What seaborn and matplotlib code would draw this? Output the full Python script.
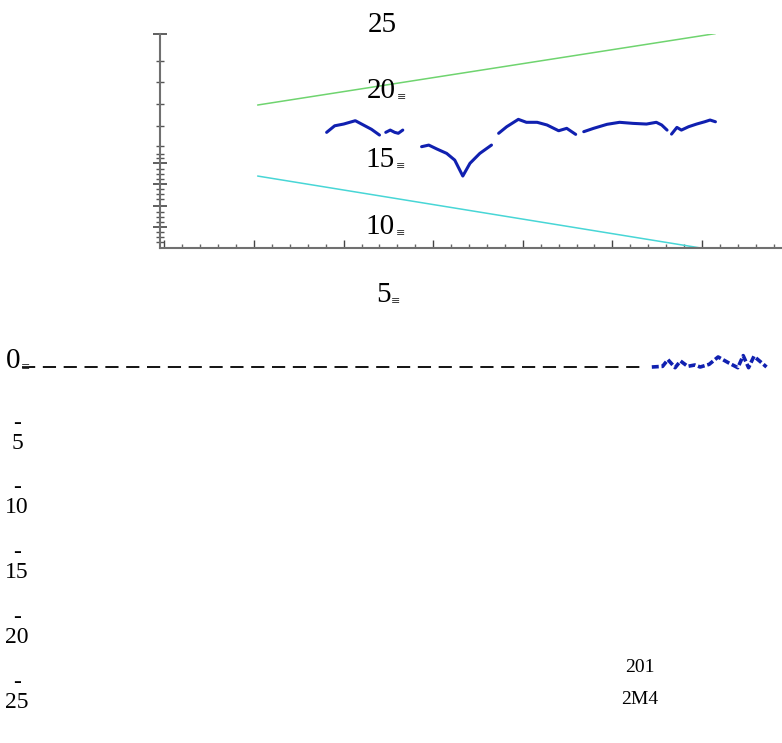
import matplotlib
matplotlib.use('Agg')
import matplotlib.pyplot as plt
import seaborn as sns
import pandas as pd

# --- données ---
# série bleue (segments séparés par des trous)
blue_seg = [1]*7 + [2]*5 + [3]*9 + [4]*9 + [5]*9 + [6]*8
blue_x = [2007.81, 2007.90, 2008.00, 2008.13, 2008.22, 2008.31, 2008.40,
          2008.47, 2008.52, 2008.57, 2008.61, 2008.66,
          2008.87, 2008.95, 2009.04, 2009.15, 2009.24, 2009.33, 2009.41, 2009.52, 2009.65,
          2009.73, 2009.82, 2009.95, 2010.04, 2010.16, 2010.27, 2010.40, 2010.49, 2010.59,
          2010.68, 2010.79, 2010.94, 2011.08, 2011.23, 2011.38, 2011.49, 2011.55, 2011.61,
          2011.66, 2011.72, 2011.77, 2011.85, 2011.94, 2012.03, 2012.09, 2012.15]
blue_y = [17.51, 18.00, 18.13, 18.38, 18.06, 17.74, 17.31,
          17.51, 17.68, 17.51, 17.44, 17.68,
          16.44, 16.56, 16.27, 15.94, 15.44, 14.25, 15.20, 15.94, 16.56,
          17.44, 17.93, 18.48, 18.26, 18.26, 18.06, 17.63, 17.81, 17.36,
          17.56, 17.81, 18.11, 18.26, 18.18, 18.13, 18.26, 18.06, 17.68,
          17.38, 17.88, 17.68, 17.93, 18.13, 18.30, 18.43, 18.30]

# bornes haute (verte) et basse (cyan)
upper_x = [2007.04, 2012.15]
upper_y = [19.55, 24.88]
lower_x = [2007.04, 2012.05]
lower_y = [14.25, 8.81]

# ligne zéro pointillée et petite série en bas à droite
zero_x = [2004.41, 2011.36]
zero_y = [0, 0]
small_x = [2011.44, 2011.56, 2011.62, 2011.70, 2011.76, 2011.84, 2011.92, 2011.98,
           2012.08, 2012.18, 2012.30, 2012.40, 2012.46, 2012.52, 2012.58, 2012.66, 2012.72]
small_y = [0.0, 0.05, 0.55, -0.05, 0.45, 0.05, 0.15, 0.0,
           0.2, 0.75, 0.3, -0.05, 0.85, -0.05, 0.8, 0.35, 0.0]

# étiquettes (texte)
mid_labels = ['25', '20', '15', '10', '5', '0']
left_labels = ['-5', '-10', '-15', '-20', '-25']
date_labels = ['201', '2M4']

# --- mise en page ---
sns.set_theme(style='white')
plt.rcParams['font.family'] = ['Liberation Serif', 'DejaVu Sans']
plt.rcParams['lines.scale_dashes'] = False

fig = plt.figure(figsize=(7.82, 7.43), dpi=100)

# axe intérieur (cadre gris avec graduations)
ax = fig.add_axes([160/782, 1 - 248/743, 622/782, 214/743])
ax.set_facecolor('none')
sns.lineplot(x=upper_x, y=upper_y, ax=ax, color='#6fd46f', linewidth=1.1)
sns.lineplot(x=lower_x, y=lower_y, ax=ax, color='#48d6d6', linewidth=1.1)
df_blue = pd.DataFrame({'x': blue_x, 'y': blue_y, 'seg': blue_seg})
sns.lineplot(data=df_blue, x='x', y='y', units='seg', estimator=None, sort=False,
             ax=ax, color='#1020b0', linewidth=2.2)
ax.set_xlim(2005.95, 2012.893)
ax.set_ylim(8.88, 24.85)
ax.set_xlabel('')
ax.set_ylabel('')
for s in ['top', 'right']:
    ax.spines[s].set_visible(False)
for s in ['left', 'bottom']:
    ax.spines[s].set_color('#707070')
    ax.spines[s].set_linewidth(1.5)
ax.set_xticks([2006, 2007, 2008, 2009, 2010, 2011, 2012])
ax.set_xticks([2006 + 0.2*i for i in range(35)], minor=True)
ax.set_yticks([24.85, 15.22, 13.66, 12.01, 10.45])
ax.set_yticks([22.84, 21.27, 19.63, 17.99, 16.49, 15.9, 15.6, 14.8, 14.4, 14.0,
               13.3, 12.9, 12.5, 11.6, 11.2, 10.8, 10.1, 9.7, 9.3], minor=True)
ax.set_xticklabels([])
ax.set_yticklabels([])
ax.tick_params(axis='x', which='major', direction='in', length=6, width=1, color='#444444', bottom=True)
ax.tick_params(axis='x', which='minor', direction='in', length=3, width=1, color='#666666', bottom=True)
ax.tick_params(axis='y', which='major', direction='inout', length=10, width=1.2, color='#444444', left=True)
ax.tick_params(axis='y', which='minor', direction='inout', length=6, width=1, color='#555555', left=True)

# axe de fond (tout le cadre) pour les textes et la ligne zéro
bg = fig.add_axes([0, 0, 1, 1], zorder=3)
bg.set_facecolor('none')
bg.set_xlim(2004.165, 2012.893)
bg.set_ylim(-28.06, 27.39)
bg.axis('off')

sns.lineplot(x=zero_x, y=zero_y, ax=bg, color='black', linewidth=1.3,
             linestyle=(0, (9.5, 5.5)))
sns.lineplot(x=small_x, y=small_y, ax=bg, color='#1020b0', linewidth=2.6,
             linestyle=(0, (5, 2)), sort=False)

mid_pos = [(2008.43, 25.52), (2008.42, 20.60), (2008.41, 15.45),
           (2008.41, 10.45), (2008.44, 5.37), (2004.31, 0.45)]
for lab, (x, y) in zip(mid_labels, mid_pos):
    bg.text(x, y, lab, fontsize=21, ha='center', va='center', color='black')
    if lab != '25':
        mx = x + (0.175 if len(lab) == 2 else 0.085)
        bg.text(mx, y - 0.45, '≡', fontsize=8, ha='left', va='center',
                color='#333333', family=['DejaVu Sans'])

left_y = [-4.95, -9.75, -14.6, -19.45, -24.3]
for lab, y in zip(left_labels, left_y):
    bg.text(2004.355, y, lab.replace('-', '-\n'), fontsize=17, ha='center',
            va='center', color='black', linespacing=0.95)

for lab, y in zip(date_labels, [-22.46, -24.85]):
    bg.text(2011.31, y, lab, fontsize=14, ha='center', va='center', color='black')

fig.savefig('out.png', dpi=100)
